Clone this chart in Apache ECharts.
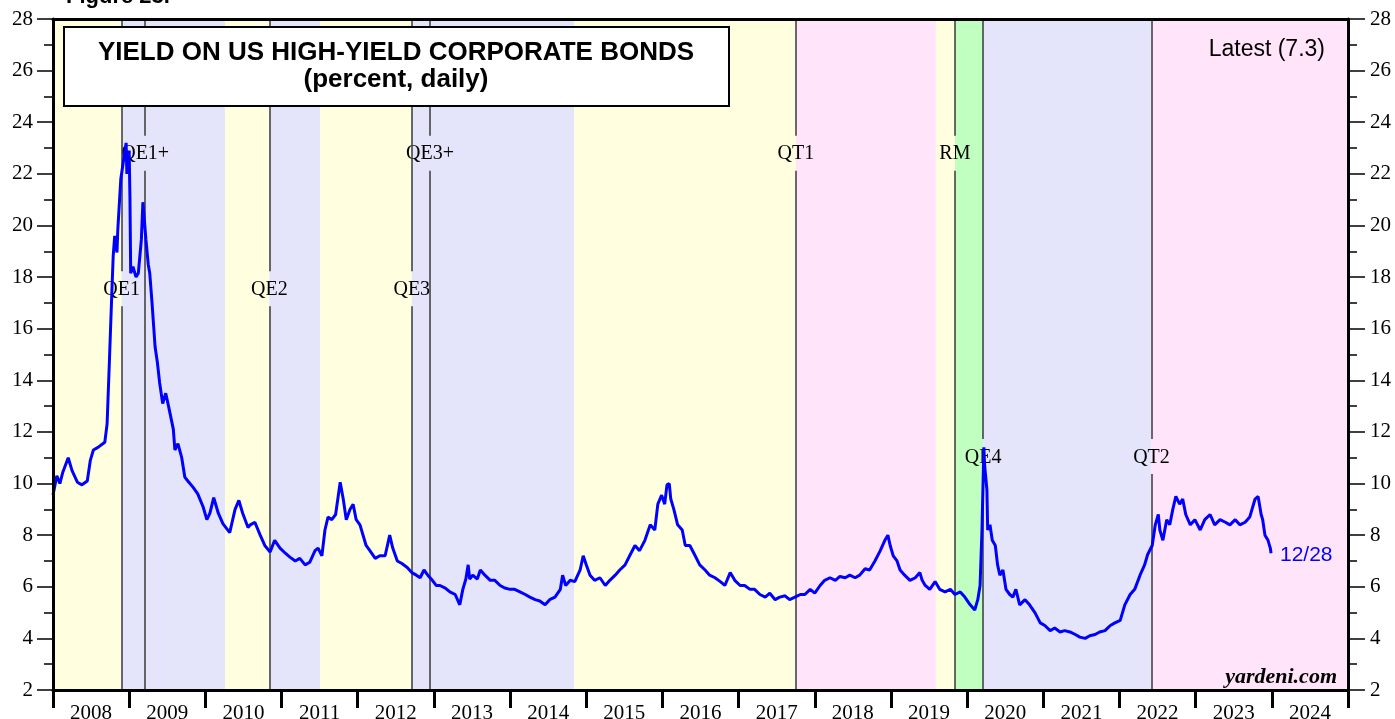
<!DOCTYPE html>
<html>
<head>
<meta charset="utf-8">
<title>Yield on US High-Yield Corporate Bonds</title>
<script src="https://cdn.jsdelivr.net/npm/echarts@6/dist/echarts.min.js"></script>
<style>
  html, body { margin: 0; padding: 0; background: #fff; }
  #chart { width: 1395px; height: 719px; }
</style>
</head>
<body>
<div id="chart"></div>
<script>
// year labels on the bottom axis
const yearLabels = ['2008', '2009', '2010', '2011', '2012', '2013', '2014', '2015', '2016',
  '2017', '2018', '2019', '2020', '2021', '2022', '2023', '2024'];

// yield, percent (decimal year -> value)
const dates = [
  2008.00, 2008.05, 2008.09, 2008.13, 2008.20, 2008.25, 2008.32, 2008.38, 2008.45, 2008.49,
  2008.53, 2008.59, 2008.68, 2008.71, 2008.74, 2008.77, 2008.79, 2008.81, 2008.84, 2008.85,
  2008.89, 2008.92, 2008.96, 2008.97, 2009.00, 2009.01, 2009.02, 2009.05, 2009.09, 2009.12,
  2009.16, 2009.18, 2009.22, 2009.25, 2009.27, 2009.30, 2009.34, 2009.37, 2009.40, 2009.44,
  2009.48, 2009.52, 2009.58, 2009.60, 2009.64, 2009.69, 2009.73, 2009.77, 2009.84, 2009.90,
  2009.97, 2010.02, 2010.06, 2010.11, 2010.17, 2010.23, 2010.32, 2010.39, 2010.44, 2010.49,
  2010.56, 2010.59, 2010.65, 2010.72, 2010.78, 2010.85, 2010.91, 2010.98, 2011.05, 2011.11,
  2011.18, 2011.24, 2011.31, 2011.37, 2011.44, 2011.48, 2011.53, 2011.57, 2011.61, 2011.66,
  2011.71, 2011.77, 2011.81, 2011.85, 2011.90, 2011.94, 2011.98, 2012.03, 2012.11, 2012.16,
  2012.23, 2012.29, 2012.36, 2012.42, 2012.46, 2012.52, 2012.58, 2012.65, 2012.71, 2012.77,
  2012.82, 2012.87, 2012.92, 2012.98, 2013.03, 2013.08, 2013.15, 2013.21, 2013.28, 2013.34,
  2013.38, 2013.42, 2013.45, 2013.47, 2013.51, 2013.57, 2013.61, 2013.67, 2013.74, 2013.80,
  2013.87, 2013.93, 2014.00, 2014.06, 2014.13, 2014.20, 2014.26, 2014.33, 2014.39, 2014.46,
  2014.52, 2014.59, 2014.66, 2014.69, 2014.73, 2014.79, 2014.85, 2014.92, 2014.96, 2015.00,
  2015.05, 2015.11, 2015.18, 2015.25, 2015.31, 2015.38, 2015.44, 2015.51, 2015.57, 2015.64,
  2015.70, 2015.77, 2015.84, 2015.90, 2015.94, 2015.99, 2016.03, 2016.06, 2016.09, 2016.11,
  2016.15, 2016.20, 2016.26, 2016.30, 2016.36, 2016.43, 2016.49, 2016.56, 2016.62, 2016.69,
  2016.76, 2016.82, 2016.89, 2016.95, 2017.02, 2017.08, 2017.15, 2017.21, 2017.28, 2017.35,
  2017.41, 2017.48, 2017.54, 2017.61, 2017.67, 2017.74, 2017.81, 2017.87, 2017.94, 2018.00,
  2018.07, 2018.13, 2018.20, 2018.27, 2018.33, 2018.40, 2018.46, 2018.53, 2018.59, 2018.66,
  2018.72, 2018.79, 2018.86, 2018.92, 2018.96, 2018.99, 2019.03, 2019.08, 2019.12, 2019.18,
  2019.25, 2019.32, 2019.38, 2019.41, 2019.45, 2019.51, 2019.58, 2019.64, 2019.71, 2019.78,
  2019.84, 2019.91, 2019.97, 2020.04, 2020.10, 2020.14, 2020.17, 2020.195, 2020.22, 2020.23,
  2020.26, 2020.27, 2020.30, 2020.33, 2020.37, 2020.40, 2020.43, 2020.47, 2020.51, 2020.56,
  2020.60, 2020.64, 2020.69, 2020.76, 2020.82, 2020.89, 2020.96, 2021.02, 2021.09, 2021.15,
  2021.22, 2021.28, 2021.35, 2021.42, 2021.48, 2021.55, 2021.61, 2021.68, 2021.74, 2021.81,
  2021.88, 2021.94, 2022.01, 2022.07, 2022.14, 2022.20, 2022.27, 2022.33, 2022.37, 2022.43,
  2022.47, 2022.51, 2022.53, 2022.57, 2022.62, 2022.66, 2022.70, 2022.74, 2022.79, 2022.83,
  2022.87, 2022.93, 2022.99, 2023.06, 2023.12, 2023.19, 2023.25, 2023.32, 2023.39, 2023.45,
  2023.52, 2023.58, 2023.65, 2023.71, 2023.78, 2023.82, 2023.86, 2023.88, 2023.91, 2023.95,
  2023.98, 2023.99
];
const yields = [
  9.55, 10.3, 10.0, 10.45, 11.0, 10.5, 10.05, 9.95, 10.1, 10.9,
  11.3, 11.4, 11.6, 12.3, 14.7, 17.2, 18.8, 19.6, 18.95, 19.8,
  21.8, 22.4, 23.2, 22.0, 22.9, 21.1, 18.15, 18.4, 18.0, 18.15,
  19.45, 20.9, 19.45, 18.5, 18.15, 17.0, 15.3, 14.7, 13.9, 13.1,
  13.5, 12.95, 12.1, 11.3, 11.55, 11.0, 10.25, 10.1, 9.85, 9.6,
  9.1, 8.6, 8.85, 9.45, 8.85, 8.45, 8.1, 9.0, 9.35, 8.85,
  8.3, 8.4, 8.5, 8.0, 7.6, 7.35, 7.8, 7.5, 7.3, 7.15,
  7.0, 7.1, 6.85, 6.95, 7.4, 7.5, 7.2, 8.2, 8.7, 8.6,
  8.8, 10.05, 9.4, 8.6, 9.0, 9.2, 8.6, 8.4, 7.6, 7.4,
  7.1, 7.2, 7.2, 8.0, 7.5, 7.0, 6.9, 6.75, 6.55, 6.45,
  6.35, 6.65, 6.45, 6.25, 6.05, 6.05, 5.95, 5.8, 5.7, 5.3,
  5.9, 6.3, 6.85, 6.3, 6.45, 6.3, 6.65, 6.45, 6.25, 6.25,
  6.05, 5.95, 5.9, 5.9, 5.8, 5.7, 5.6, 5.5, 5.45, 5.3,
  5.5, 5.6, 5.9, 6.45, 6.05, 6.25, 6.2, 6.65, 7.2, 6.85,
  6.45, 6.25, 6.35, 6.05, 6.25, 6.45, 6.65, 6.85, 7.2, 7.6,
  7.4, 7.8, 8.4, 8.2, 9.2, 9.55, 9.2, 9.95, 10.0, 9.4,
  9.0, 8.4, 8.2, 7.6, 7.6, 7.2, 6.85, 6.65, 6.45, 6.35,
  6.2, 6.05, 6.55, 6.25, 6.05, 6.05, 5.9, 5.9, 5.7, 5.6,
  5.75, 5.5, 5.6, 5.65, 5.5, 5.6, 5.7, 5.7, 5.9, 5.75,
  6.05, 6.25, 6.35, 6.25, 6.4, 6.35, 6.45, 6.35, 6.45, 6.7,
  6.65, 7.0, 7.4, 7.8, 8.0, 7.6, 7.2, 7.0, 6.65, 6.45,
  6.25, 6.35, 6.55, 6.25, 6.05, 5.9, 6.2, 5.9, 5.8, 5.9,
  5.7, 5.8, 5.6, 5.3, 5.1, 5.5, 6.05, 8.2, 11.4, 10.7,
  9.75, 8.2, 8.4, 7.8, 7.6, 6.85, 6.45, 6.65, 5.9, 5.7,
  5.6, 5.9, 5.3, 5.5, 5.3, 5.0, 4.6, 4.5, 4.3, 4.4,
  4.25, 4.3, 4.25, 4.15, 4.05, 4.0, 4.1, 4.15, 4.25, 4.3,
  4.5, 4.6, 4.7, 5.3, 5.7, 5.9, 6.45, 6.85, 7.25, 7.6,
  8.4, 8.8, 8.2, 7.8, 8.6, 8.4, 9.0, 9.5, 9.2, 9.4,
  8.8, 8.4, 8.6, 8.2, 8.6, 8.8, 8.4, 8.6, 8.5, 8.4,
  8.6, 8.4, 8.5, 8.7, 9.4, 9.5, 8.8, 8.6, 8.0, 7.8,
  7.5, 7.3
];

// policy regimes shaded behind the line
const bandStarts = [2008.00, 2008.90, 2010.26, 2010.84, 2011.505, 2012.71, 2014.843, 2017.753, 2019.59, 2019.84, 2020.21, 2022.42];
const bandEnds   = [2008.90, 2010.26, 2010.84, 2011.505, 2012.71, 2014.843, 2017.753, 2019.59, 2019.84, 2020.21, 2022.42, 2025.00];
const bandKinds  = ['none', 'qe', 'none', 'qe', 'none', 'qe', 'none', 'qt', 'none', 'rm', 'qe', 'qt'];

// policy events (vertical lines)
const eventNames = ['QE1', 'QE1+', 'QE2', 'QE3', 'QE3+', 'QT1', 'RM', 'QE4', 'QT2'];
const eventDates = [2008.90, 2009.21, 2010.84, 2012.71, 2012.95, 2017.753, 2019.84, 2020.21, 2022.42];
const eventRows  = ['mid', 'top', 'mid', 'mid', 'top', 'top', 'top', 'low', 'low'];

const bandColors = { none: '#FFFFE0', qe: '#E4E4FA', qt: '#FFE4FA', rm: '#C0FFC0' };
const rowLevel = { top: 22.8, mid: 17.55, low: 11.05 };
const gap = 0.68;
const serif = 'Liberation Serif';

const chart = echarts.init(document.getElementById('chart'));

const lineData = dates.map((d, i) => [d, yields[i]]);
const areas = bandStarts.map((s, i) => [
  { xAxis: s, itemStyle: { color: bandColors[bandKinds[i]] } },
  { xAxis: bandEnds[i] }
]);
const eventSegs = [];
eventDates.forEach((d, i) => {
  const lv = rowLevel[eventRows[i]];
  eventSegs.push([{ coord: [d, 2] }, { coord: [d, lv - gap] }]);
  eventSegs.push([{ coord: [d, lv + gap] }, { coord: [d, 28] }]);
});
const eventLabels = eventDates.map((d, i) => ({
  name: eventNames[i],
  value: [d, rowLevel[eventRows[i]]]
}));
const latest = yields[yields.length - 1];

const yAxisBase = {
  type: 'value',
  min: 2,
  max: 28,
  interval: 2,
  z: 10,
  splitLine: { show: false },
  axisLine: { show: true, lineStyle: { color: '#000', width: 3 } },
  axisTick: { show: true, length: 16, lineStyle: { color: '#000', width: 1.5 } },
  minorTick: { show: true, splitNumber: 2, length: 9, lineStyle: { color: '#000', width: 1.5 } },
  minorSplitLine: { show: false },
  axisLabel: { color: '#000', fontFamily: serif, fontSize: 21, margin: 20 }
};

chart.setOption({
  animation: false,
  grid: {
    left: 53, right: 47, top: 19, bottom: 29,
    containLabel: false,
    outerBoundsMode: 'none'
  },
  xAxis: [
    {
      type: 'value', position: 'bottom', min: 2008, max: 2025, interval: 1, z: 10,
      splitLine: { show: false },
      axisLine: { show: true, onZero: false, lineStyle: { color: '#000', width: 3 } },
      axisTick: { show: true, length: 18, lineStyle: { color: '#000', width: 3 } },
      axisLabel: { show: false }
    },
    {
      type: 'category', position: 'bottom', data: yearLabels, boundaryGap: true,
      axisLine: { show: false }, axisTick: { show: false }, splitLine: { show: false },
      axisLabel: { color: '#000', fontFamily: serif, fontSize: 21, margin: 13, interval: 0 }
    },
    {
      type: 'value', position: 'top', min: 2008, max: 2025, z: 10,
      splitLine: { show: false },
      axisLine: { show: true, onZero: false, lineStyle: { color: '#000', width: 3 } },
      axisTick: { show: false },
      axisLabel: { show: false }
    }
  ],
  yAxis: [
    Object.assign({}, yAxisBase, { position: 'left' }),
    Object.assign({}, yAxisBase, {
      position: 'right',
      axisTick: { show: true, length: 17, lineStyle: { color: '#000', width: 1.5 } },
      axisLabel: { color: '#000', fontFamily: serif, fontSize: 21, margin: 22 }
    })
  ],
  series: [
    {
      name: 'bands', type: 'line', data: [], z: 1, silent: true,
      markArea: { silent: true, label: { show: false }, data: areas }
    },
    {
      name: 'events', type: 'line', data: [], z: 2, silent: true,
      markLine: {
        silent: true, symbol: 'none', label: { show: false },
        lineStyle: { color: '#3a3a3a', width: 1.5, type: 'solid' },
        data: eventSegs
      }
    },
    {
      name: 'eventLabels', type: 'scatter', data: eventLabels, z: 3, silent: true,
      symbol: 'circle', symbolSize: 0,
      itemStyle: { color: '#000', opacity: 1 },
      label: {
        show: true, position: 'top', distance: -11, formatter: '{b}',
        color: '#000', textBorderWidth: 0, textBorderColor: 'transparent',
        backgroundColor: 'transparent', fontFamily: serif, fontSize: 20
      },
      labelLayout: { hideOverlap: false }
    },
    {
      name: 'High-yield', type: 'line', data: lineData, z: 5,
      symbol: 'none', smooth: false,
      lineStyle: { color: '#0000FF', width: 3 }
    }
  ],
  graphic: [
    {
      type: 'text', left: 66, top: -14, z: 100,
      style: { text: 'Figure 23.', font: 'bold 22px "Liberation Sans"', fill: '#000' }
    },
    {
      type: 'rect', left: 63, top: 26, z: 100,
      shape: { width: 665, height: 79 },
      style: { fill: '#fff', stroke: '#000', lineWidth: 2 }
    },
    {
      type: 'text', x: 396, y: 53, z: 101,
      style: {
        text: 'YIELD ON US HIGH-YIELD CORPORATE BONDS', font: 'bold 26px "Liberation Sans"',
        fill: '#000', align: 'center', verticalAlign: 'middle'
      }
    },
    {
      type: 'text', x: 396, y: 80, z: 101,
      style: {
        text: '(percent, daily)', font: 'bold 26px "Liberation Sans"',
        fill: '#000', align: 'center', verticalAlign: 'middle'
      }
    },
    {
      type: 'text', x: 1325, y: 50, z: 101,
      style: {
        text: 'Latest (' + latest.toFixed(1) + ')', font: '23px "Liberation Sans"',
        fill: '#000', align: 'right', verticalAlign: 'middle'
      }
    },
    {
      type: 'text', x: 1280, y: 555, z: 101,
      style: {
        text: '12/28', font: '21px "Liberation Sans"',
        fill: '#0000FF', align: 'left', verticalAlign: 'middle'
      }
    },
    {
      type: 'text', x: 1337, y: 677, z: 101,
      style: {
        text: 'yardeni.com', font: 'italic bold 22px "Liberation Serif"',
        fill: '#000', align: 'right', verticalAlign: 'middle'
      }
    }
  ]
});
</script>
</body>
</html>
